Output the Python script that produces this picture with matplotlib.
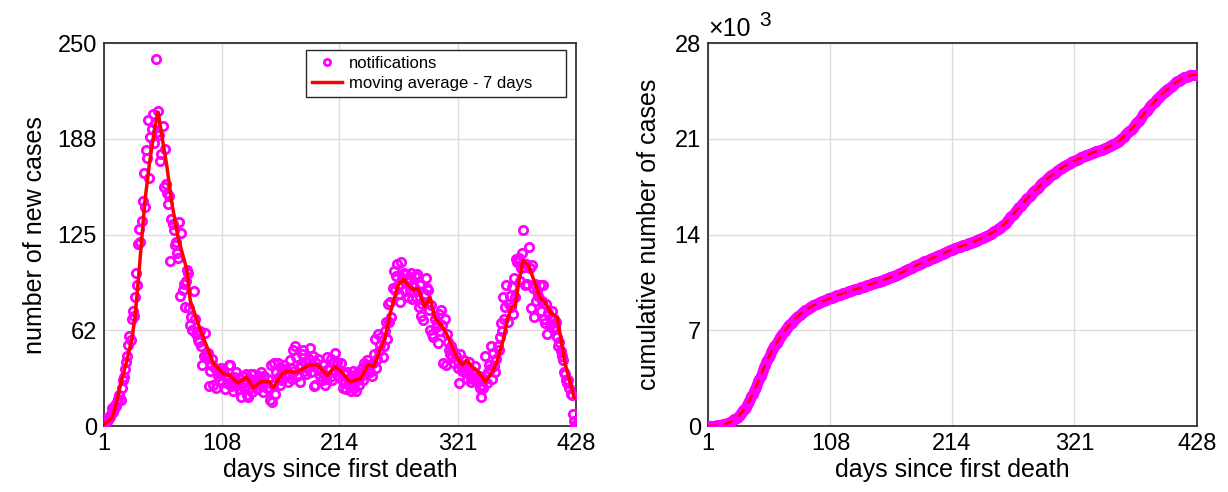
import numpy as np
import matplotlib
matplotlib.use('Agg')
import matplotlib.pyplot as plt

plt.rcParams['font.family'] = ['Liberation Sans', 'DejaVu Sans']

# daily notifications, days 1..428
notifications = [
    0, 2, 3, 5, 4, 6, 8,
    12, 9, 11, 14, 13, 16, 18,
    20, 17, 25, 30, 32, 37, 42,
    46, 53, 59, 56, 70, 75, 72,
    84, 100, 92, 119, 129, 120, 134,
    147, 165, 143, 180, 175, 200, 162,
    189, 194, 204, 185, 198, 240, 192,
    206, 190, 173, 178, 196, 156, 181,
    158, 152, 145, 150, 108, 135, 132,
    128, 118, 120, 113, 110, 133, 85,
    126, 89, 93, 78, 95, 102, 100,
    77, 66, 71, 63, 88, 70, 60,
    61, 56, 55, 62, 52, 40, 46,
    61, 47, 45, 48, 26, 36, 40,
    44, 27, 38, 25, 37, 33, 35,
    30, 38, 29, 36, 24, 33, 28,
    31, 40, 40, 26, 30, 23, 32,
    35, 27, 29, 24, 31, 19, 33,
    28, 25, 34, 20, 19, 25, 31,
    34, 22, 34, 27, 30, 24, 28,
    33, 30, 35, 26, 22, 33, 28,
    25, 31, 24, 17, 40, 16, 27,
    41, 21, 35, 41, 32, 27, 38,
    30, 36, 40, 33, 37, 29, 34,
    43, 38, 31, 50, 36, 52, 45,
    33, 38, 29, 40, 47, 50, 36,
    42, 34, 38, 44, 51, 35, 39,
    46, 26, 27, 41, 38, 44, 33,
    36, 30, 40, 34, 27, 31, 45,
    37, 32, 44, 30, 41, 35, 48,
    40, 42, 33, 36, 41, 30, 25,
    34, 28, 24, 35, 31, 27, 23,
    29, 36, 25, 33, 23, 30, 35,
    27, 32, 38, 30, 41, 34, 39,
    43, 36, 40, 35, 33, 41, 47,
    57, 38, 44, 60, 49, 53, 58,
    45, 52, 62, 68, 57, 80, 68,
    81, 71, 90, 101, 89, 98, 106,
    92, 86, 81, 107, 97, 100, 88,
    99, 94, 84, 97, 89, 100, 83,
    91, 98, 84, 99, 88, 78, 92,
    72, 80, 69, 86, 97, 90, 89,
    76, 63, 79, 60, 58, 70, 65,
    67, 54, 73, 62, 76, 66, 41,
    70, 40, 60, 55, 50, 47, 52,
    45, 49, 41, 46, 43, 38, 28,
    47, 40, 36, 39, 43, 35, 31,
    37, 42, 33, 29, 36, 31, 34,
    39, 29, 30, 33, 25, 19, 27,
    25, 30, 46, 28, 35, 40, 37,
    52, 31, 48, 39, 35, 44, 52,
    50, 58, 67, 62, 84, 70, 78,
    92, 68, 80, 85, 78, 91, 73,
    97, 84, 109, 107, 110, 95, 103,
    113, 128, 104, 92, 106, 93, 117,
    103, 77, 105, 90, 71, 93, 82,
    88, 85, 92, 75, 82, 92, 70,
    67, 80, 60, 74, 66, 70, 75,
    64, 70, 65, 68, 58, 52, 55,
    49, 46, 43, 35, 34, 30, 28,
    30, 25, 21, 20, 8, 3, 1,
    0,
]
days = np.arange(1, len(notifications) + 1)

# 7-day moving average line as drawn (day, value)
ma_days = [1, 2, 8, 11, 14, 17, 21, 26, 29, 32, 35, 38, 42, 47, 50, 53, 58, 62, 68,
           76, 79, 88, 100, 104, 109, 115, 122, 130, 136, 143, 151, 154, 162, 166,
           175, 187, 194, 203, 210, 215, 222, 224, 233, 240, 245, 252, 255, 260,
           267, 272, 276, 281, 285, 291, 296, 300, 307, 311, 316, 320, 325, 329,
           335, 339, 346, 352, 356, 362, 366, 370, 373, 376, 380, 385, 391, 395,
           400, 405, 411, 418, 426, 428]
ma_vals = [0, 2, 5, 12, 21, 30, 41, 56, 71, 95, 121, 147, 171, 195, 205, 191, 169,
           147, 123, 102, 82, 63, 41, 38, 34, 33, 28, 32, 25, 29, 29, 25, 34, 36,
           35, 40, 40, 33, 39, 36, 30, 29, 31, 40, 39, 52, 57, 74,
           92, 96, 92, 89, 90, 78, 84, 71, 65, 60, 52, 45, 40, 43,
           38, 36, 29, 35, 41, 56, 70, 78, 78, 93, 108, 105, 93, 84,
           81, 74, 71, 41, 19, 18]

cumulative = np.cumsum(notifications)

fig = plt.figure(figsize=(12.28, 4.92), dpi=100)
ax1 = fig.add_axes([0.0847, 0.134, 0.3844, 0.778])
ax2 = fig.add_axes([0.5765, 0.134, 0.3982, 0.778])

xt = [1, 108, 214, 321, 428]

# left panel
ax1.plot(days, notifications, 'o', mfc='none', mec='#ff00ff', mew=2, ms=6,
         label='notifications', zorder=3)
ax1.plot(ma_days, ma_vals, '-', color='#ff0000', lw=2.5,
         label='moving average - 7 days', zorder=4)
ax1.set_xlim(1, 428)
ax1.set_ylim(0, 250)
ax1.set_xticks(xt)
ax1.set_yticks([0, 62.5, 125, 187.5, 250])
ax1.set_yticklabels(['0', '62', '125', '188', '250'])
ax1.set_xlabel('days since first death', fontsize=18, labelpad=2)
ax1.set_ylabel('number of new cases', fontsize=18, labelpad=8)
leg = ax1.legend(loc='upper left', mode='expand', fontsize=12, fancybox=False,
                 framealpha=1, edgecolor='#262626', borderpad=0.35,
                 handlelength=1.8, handletextpad=0.45, labelspacing=0.3,
                 markerscale=0.75, borderaxespad=0,
                 bbox_to_anchor=(0.428, 0.5, 0.551, 0.482))
leg.get_frame().set_linewidth(1.0)

# right panel
ax2.plot(days, cumulative, 'o', mfc='none', mec='#ff00ff', mew=2, ms=6, zorder=3)
ax2.plot(days, cumulative, '--', color='#ff0000', lw=1.8, dashes=(4, 2.5), zorder=4)
ax2.set_xlim(1, 428)
ax2.set_ylim(0, 28000)
ax2.set_xticks(xt)
ax2.set_yticks([0, 7000, 14000, 21000, 28000])
ax2.set_yticklabels(['0', '7', '14', '21', '28'])
ax2.set_xlabel('days since first death', fontsize=18, labelpad=2)
ax2.set_ylabel('cumulative number of cases', fontsize=18, labelpad=10)
ax2.text(0.0, 1.005, '\u00d710', transform=ax2.transAxes, fontsize=18,
         ha='left', va='bottom')
ax2.text(0.105, 1.035, '3', transform=ax2.transAxes, fontsize=15,
         ha='left', va='bottom')

for ax in (ax1, ax2):
    ax.grid(True, color='#dcdcdc', lw=1)
    ax.set_axisbelow(True)
    ax.tick_params(labelsize=17, direction='in', length=0, pad=5)
    for s in ax.spines.values():
        s.set_color('#333333')
        s.set_linewidth(1.3)

plt.savefig('out.png', dpi=100)
